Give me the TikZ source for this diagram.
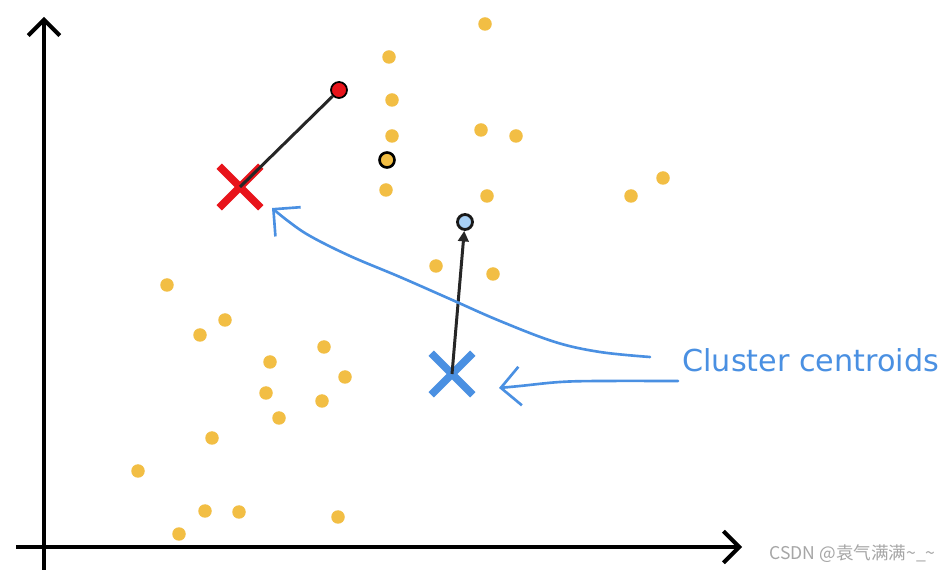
\documentclass[tikz,border=0pt]{standalone}
\usepackage{fontspec}
\newfontfamily\labelfont{DejaVu Sans}
\newfontfamily\cjk{Noto Sans CJK SC}
\usetikzlibrary{arrows.meta,shapes.misc}
\definecolor{dotyellow}{HTML}{F2BE44}
\definecolor{xred}{HTML}{E8141B}
\definecolor{xblue}{HTML}{4A90E2}
\definecolor{lightblue}{HTML}{A8D0F5}
\tikzset{
  axis/.style={line width=2.3pt,-{Straight Barb[length=9pt,width=18pt,line width=2.3pt]}},
  pt/.style={circle,fill=dotyellow,inner sep=0pt,minimum size=0.27cm},
  xmark/.style={cross out,draw=#1,line width=4.3pt,inner sep=0pt,minimum size=0.68cm},
  hand/.style={draw=xblue,line width=1.5pt,line cap=round,line join=round},
  handtip/.style={-{Straight Barb[length=11pt,width=22pt,line width=1.5pt]}},
}
\begin{document}
\begin{tikzpicture}[x=0.02cm,y=-0.02cm]
\useasboundingbox[fill=white] (0,0) rectangle (940,570);
% axes
\coordinate (ybot) at (44,570);
\coordinate (ytop) at (44,17);
\coordinate (xl) at (16,547);
\coordinate (xr) at (742,547);
\draw[axis] (ybot) -- (ytop);
\draw[axis] (xl) -- (xr);
% yellow points
\foreach \n/\x/\y in {a/485/24,b/389/57,c/392/100,d/392/136,e/481/130,f/516/136,g/386/190,h/487/196,i/631/196,j/663/178,k/436/266,l/493/274,m/167/285,n/225/320,o/200/335,p/324/347,q/270/362,r/345/377,s/266/393,t/322/401,u/279/418,v/212/438,w/138/471,y/205/511,z/239/512,aa/338/517,ab/179/534}
  \node[pt] (p\n) at (\x,\y) {};
\node[pt,draw=black,line width=1.5pt,minimum size=0.3cm] (pout) at (387,160) {};
% red centroid
\node[xmark=xred] (rx) at (240,187) {};
\node[circle,fill=xred,draw=black,line width=1pt,inner sep=0pt,minimum size=0.32cm] (rp) at (339,90) {};
\draw[line width=1.7pt,black!85] (rx.center) -- (rp);
% blue centroid
\node[xmark=xblue] (bx) at (452,374) {};
\node[circle,fill=lightblue,draw=black!90,line width=1.6pt,inner sep=0pt,minimum size=0.3cm] (bp) at (465,222) {};
\draw[line width=1.7pt,black!85,-{Triangle[length=6pt,width=6pt]}] (bx.center) -- (bp);
% label
\node[anchor=base west,text=xblue,font=\labelfont\fontsize{17.2}{20}\selectfont,inner sep=0pt] (lbl) at (682,372) {Cluster centroids};
% hand-drawn arrows
\draw[hand,handtip] plot[smooth,tension=0.6] coordinates {(650,357) (600,352) (555,342) (500,321) (450,299) (400,277) (350,256) (310,236) (288,221) (272,208)};
\draw[hand,handtip] plot[smooth,tension=0.6] coordinates {(678,381) (600,381) (560,382) (520,386) (499,388)};
% watermark
\node[anchor=base east,text=black!35,font=\cjk\fontsize{10}{12}\selectfont,inner sep=0pt] (wm) at (936,560) {CSDN @袁气满满\textasciitilde\_\textasciitilde};
\end{tikzpicture}
\end{document}
